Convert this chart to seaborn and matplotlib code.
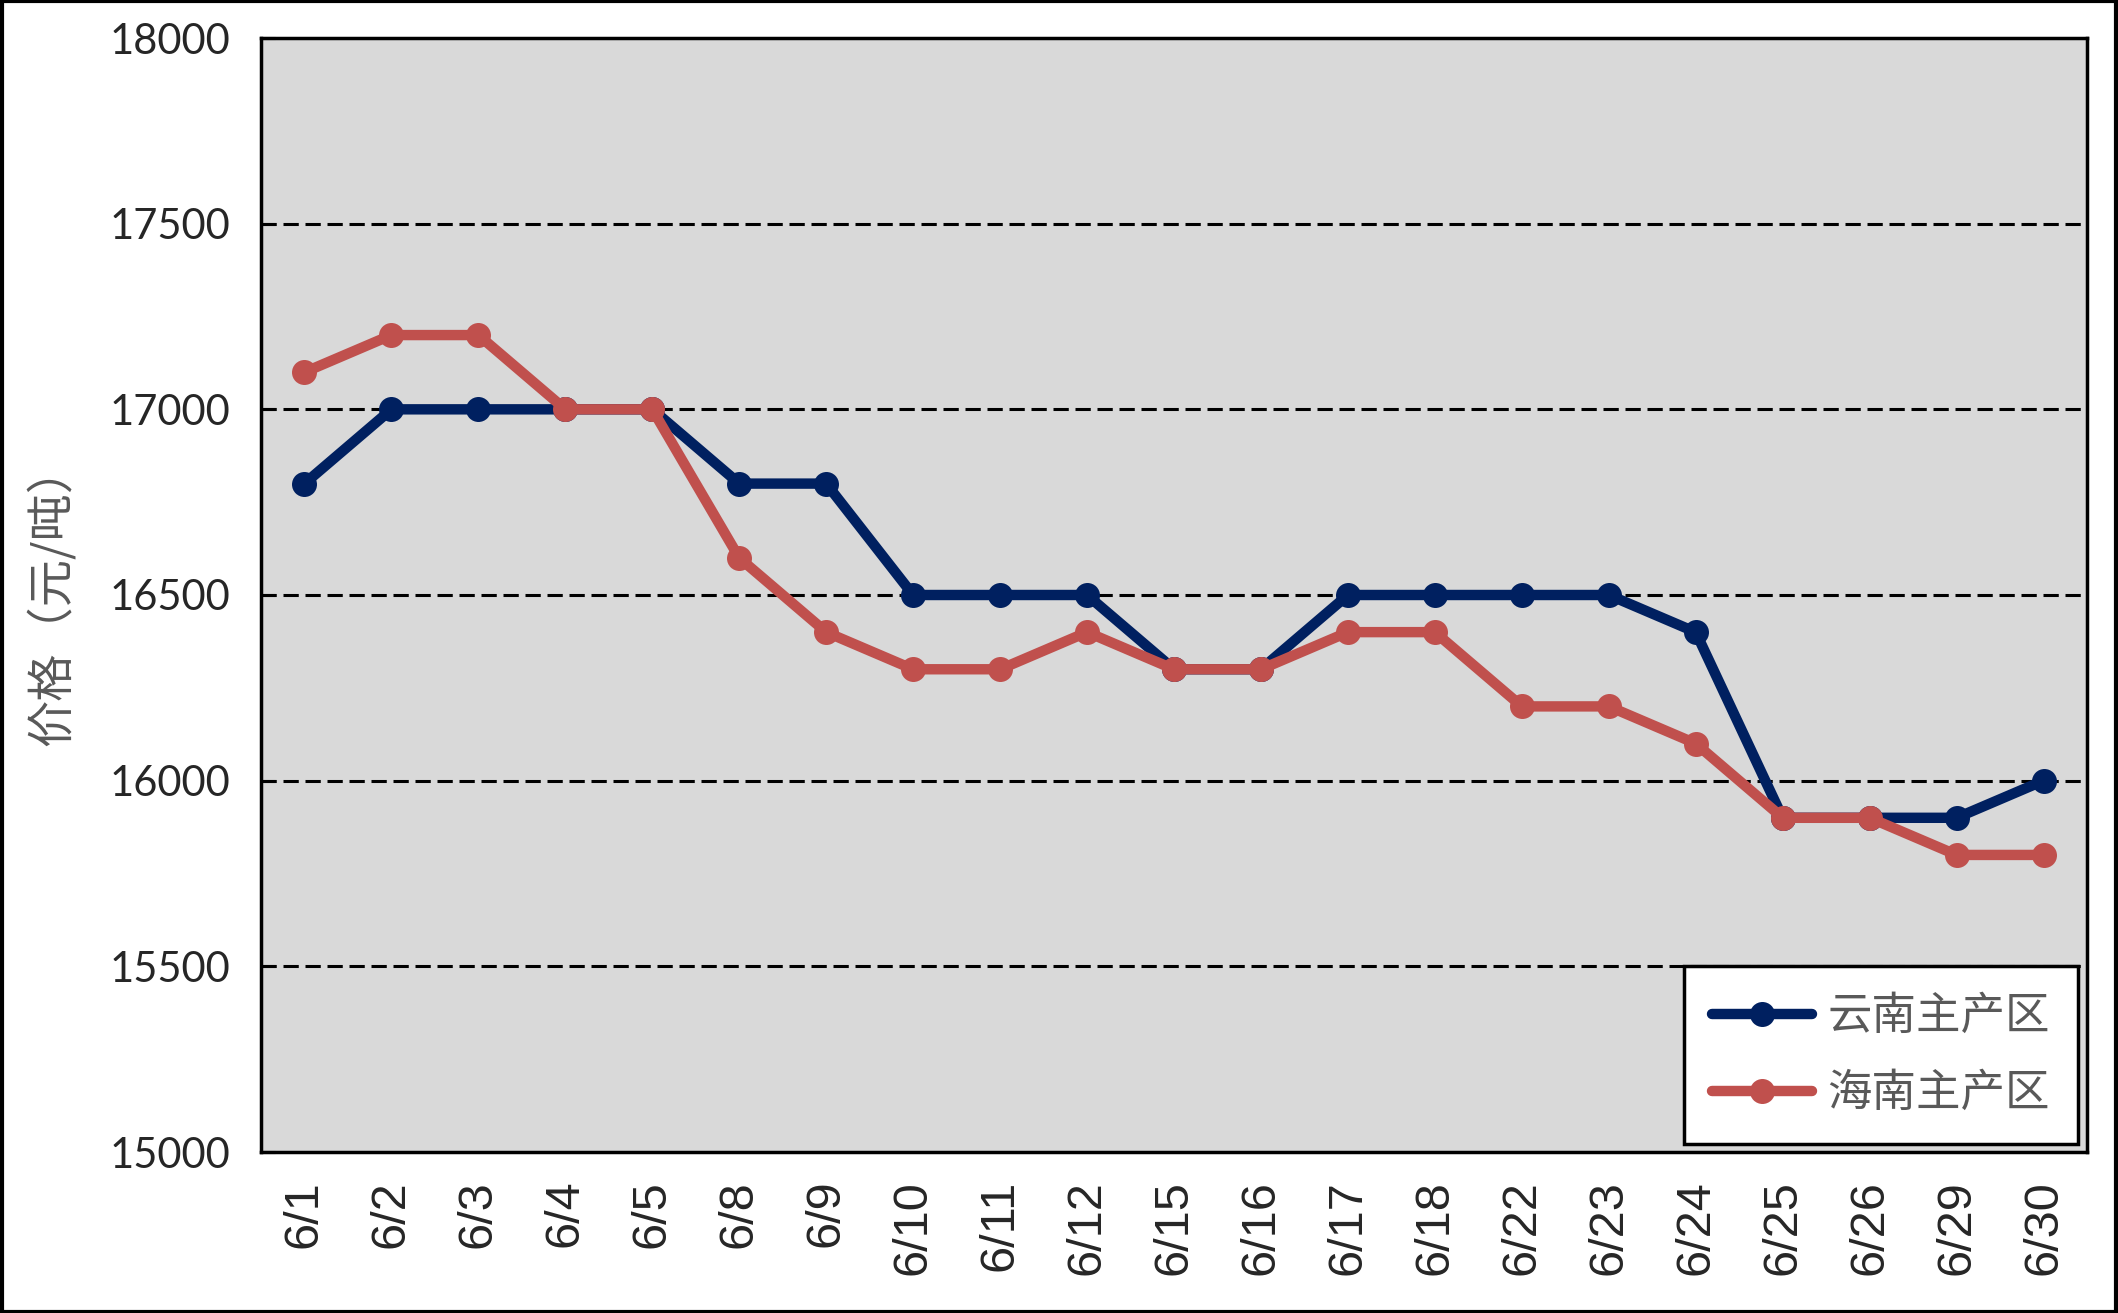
import numpy as np
import pandas as pd
import seaborn as sns
import matplotlib.pyplot as plt
from matplotlib.patches import Rectangle

# 数据
dates = ['6/1', '6/2', '6/3', '6/4', '6/5', '6/8', '6/9', '6/10', '6/11', '6/12', '6/15',
         '6/16', '6/17', '6/18', '6/22', '6/23', '6/24', '6/25', '6/26', '6/29', '6/30']
yunnan = [16800, 17000, 17000, 17000, 17000, 16800, 16800, 16500, 16500, 16500, 16300,
          16300, 16500, 16500, 16500, 16500, 16400, 15900, 15900, 15900, 16000]
hainan = [17100, 17200, 17200, 17000, 17000, 16600, 16400, 16300, 16300, 16400, 16300,
          16300, 16400, 16400, 16200, 16200, 16100, 15900, 15900, 15800, 15800]
series_names = ['云南主产区', '海南主产区']
y_ticks = [15000, 15500, 16000, 16500, 17000, 17500, 18000]

df = pd.DataFrame({
    'idx': list(range(len(dates))) * 2,
    'price': yunnan + hainan,
    'area': [series_names[0]] * len(dates) + [series_names[1]] * len(dates),
})

sns.set_style('white')
plt.rcParams['font.family'] = ['Noto Sans CJK SC', 'DejaVu Sans']

fig = plt.figure(figsize=(21.18, 13.13), dpi=100)
ax = fig.add_axes([261 / 2118, 1 - 1152 / 1313, (2087 - 261) / 2118, (1152 - 38) / 1313])
ax.set_facecolor('#D9D9D9')

# 网格线
for v in y_ticks[1:-1]:
    ax.axhline(v, color='black', lw=2.2, ls=(0, (5, 2.2)), zorder=1)

sns.lineplot(data=df, x='idx', y='price', hue='area', hue_order=series_names,
             palette=['#002060', '#C0504D'], marker='o', markersize=18,
             markeredgewidth=0, linewidth=7.5, ax=ax, zorder=3)

ax.set_xlim(-0.5, len(dates) - 0.5)
ax.set_ylim(15000, 18000)
ax.set_xticks(range(len(dates)))
ax.set_xticklabels(dates, rotation=90, fontsize=35, family='Liberation Sans')
ax.set_xticks(np.arange(0.5, len(dates) - 1, 1), minor=True)
ax.set_yticks(y_ticks)
ax.set_yticklabels([str(v) for v in y_ticks], fontsize=30, family='Lato')
ax.tick_params(axis='x', which='major', length=0, pad=20)
ax.tick_params(axis='x', which='minor', direction='in', length=17, width=2.2, color='black')
ax.tick_params(axis='y', direction='in', length=10, width=2.2, color='black', pad=22, left=True)
for s in ax.spines.values():
    s.set_color('black')
    s.set_linewidth(2.5)

ax.set_xlabel('')
ax.set_ylabel('价格（元/吨）', fontsize=34, color='#595959')
ax.yaxis.set_label_coords(-0.101, 0.5)

leg = ax.legend(loc='lower right', bbox_to_anchor=(0.9948, 0.0073), borderaxespad=0,
                prop={'size': 32}, frameon=True, fancybox=False, edgecolor='black',
                facecolor='white', framealpha=1, borderpad=0.62, labelspacing=0.7,
                handlelength=2.25, handletextpad=0.35)
leg.get_frame().set_linewidth(2.5)
for t in leg.get_texts():
    t.set_color('#595959')

fig.patches.append(Rectangle((0.001, 0.001), 0.998, 0.998, transform=fig.transFigure,
                             fill=False, edgecolor='black', linewidth=3))

fig.savefig('out.png', dpi=100, facecolor='white')
